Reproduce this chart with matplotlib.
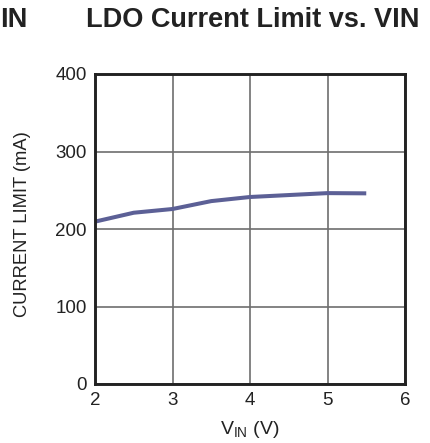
import matplotlib
matplotlib.use("Agg")
import matplotlib.pyplot as plt

vin = [2.0, 2.5, 3.0, 3.5, 4.0, 4.5, 5.0, 5.5]
current_limit = [209.5, 221, 225.8, 236, 241.3, 243.8, 246.3, 246.0]
x_ticks = [2, 3, 4, 5, 6]
y_ticks = [0, 100, 200, 300, 400]

plt.rcParams['font.family'] = ['Liberation Sans', 'DejaVu Sans']

fig = plt.figure(figsize=(4.31, 4.43), dpi=100)
ax = fig.add_axes([95/431, 1-384/443, 310/431, 310/443])

ax.plot(vin, current_limit, color='#5c6096', lw=2.9, solid_capstyle='butt')
ax.set_xlim(2, 6)
ax.set_ylim(0, 400)
ax.set_xticks(x_ticks)
ax.set_yticks(y_ticks)
ax.grid(True, color='#6e6e6e', lw=1.2)
ax.set_axisbelow(True)
for s in ax.spines.values():
    s.set_color('#222222')
    s.set_linewidth(2.1)
ax.tick_params(length=0, labelsize=13.5, colors='#222222', pad=6)

fig.text(250/431, 1-430/443, r'V$_{\mathregular{IN}}$ (V)', ha='center', va='center',
         fontsize=14, color='#222222')
fig.text(23/431, 1-224/443, 'CURRENT LIMIT (mA)', ha='center', va='center',
         rotation=90, fontsize=13.2, color='#222222')

fig.text(253/431, 1-27/443, 'LDO Current Limit vs. VIN', ha='center', va='baseline',
         fontsize=19.5, fontweight='bold', color='#222222')
fig.text(0.0, 1-27/443, 'IN', ha='left', va='baseline',
         fontsize=19.5, fontweight='bold', color='#222222')

fig.savefig('out.png', dpi=100)
